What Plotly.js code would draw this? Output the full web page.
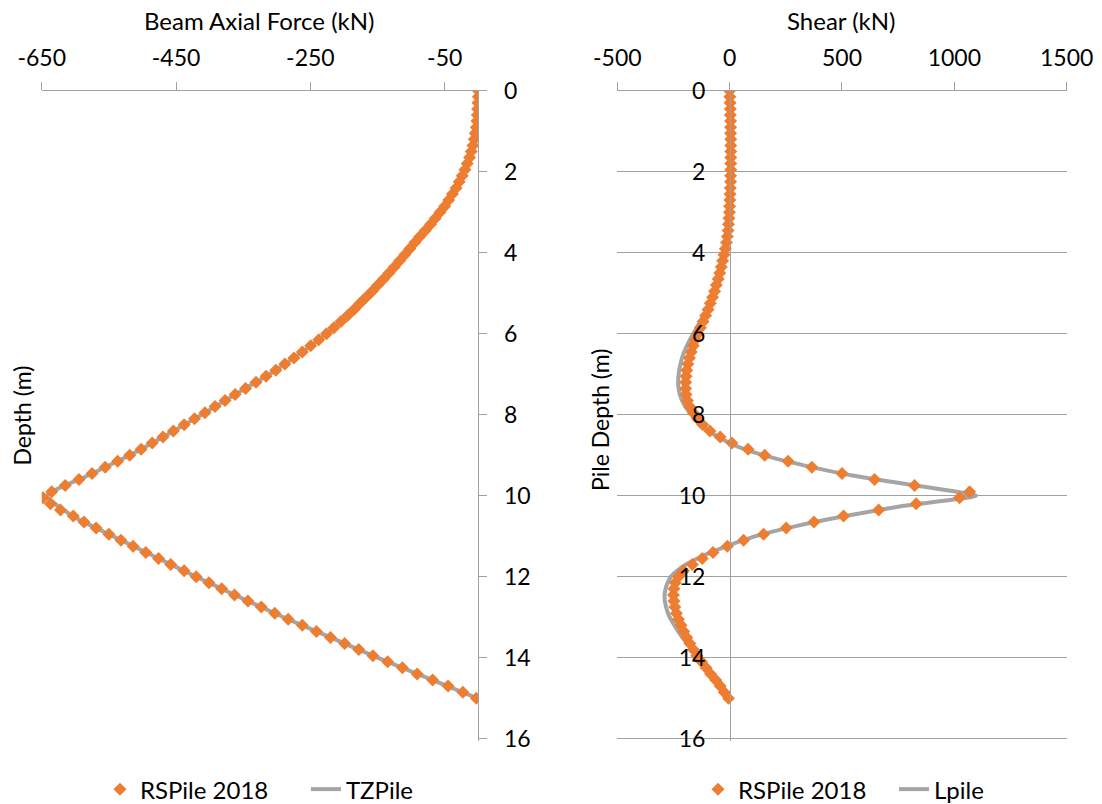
<!DOCTYPE html>
<html><head><meta charset="utf-8">
<script src="https://cdn.plot.ly/plotly-3.0.1.min.js"></script>
<style>html,body{margin:0;padding:0;background:#fff}#chart{width:1102px;height:804px}</style>
</head><body><div id="chart"></div><script>
// Depth of RSPile 2018 nodes (m)
const depthRS = [
 0, 0.15, 0.3, 0.45, 0.6, 0.75, 0.9, 1.05, 1.2, 1.35,
 1.5, 1.65, 1.8, 1.95, 2.1, 2.25, 2.4, 2.55, 2.7, 2.85,
 3, 3.15, 3.3, 3.45, 3.6, 3.75, 3.9, 4.05, 4.2, 4.35,
 4.5, 4.65, 4.8, 4.95, 5.1, 5.25, 5.4, 5.55, 5.7, 5.85,
 6, 6.15, 6.3, 6.45, 6.6, 6.75, 6.9, 7.05, 7.2, 7.35,
 7.5, 7.65, 7.8, 7.95, 8.1, 8.25, 8.4, 8.55, 8.7, 8.85,
 9, 9.15, 9.3, 9.45, 9.6, 9.75, 9.9, 10.05, 10.2, 10.35,
 10.5, 10.65, 10.8, 10.95, 11.1, 11.25, 11.4, 11.55, 11.7, 11.85,
 12, 12.15, 12.3, 12.45, 12.6, 12.75, 12.9, 13.05, 13.2, 13.35,
 13.5, 13.65, 13.8, 13.95, 14.1, 14.25, 14.4, 14.55, 14.7, 14.85,
 15
];
// RSPile 2018 beam axial force (kN)
const axialRS = [
 0, 0, -0.5, -1, -1.5, -2, -3, -4.5, -6, -8,
 -10.5, -13, -16.5, -20, -24, -28.5, -33, -38.5, -44, -50,
 -57, -64, -71, -79, -87, -94.5, -102, -109.5, -117, -125,
 -133, -141, -149.5, -158, -167, -176, -185, -194.5, -204.5, -215,
 -226, -237.5, -249.5, -262, -274.5, -288, -301.5, -316, -331, -346.5,
 -362, -377, -392, -407, -422.5, -438, -454, -469.5, -485.5, -502,
 -519, -537, -555.5, -575, -594.5, -615, -635, -648, -637, -622,
 -603, -587, -569, -550, -532, -514, -495, -476, -458, -438,
 -420, -401, -382, -363, -343, -323, -303, -283, -262, -241,
 -220, -199, -178, -157, -135, -113, -91, -68, -45, -23,
 -3
];
// RSPile 2018 shear (kN)
const shearRS = [
 0, 1, 2, 3, 3, 4, 4, 4, 5, 5,
 5, 5, 5, 5, 4, 4, 3, 2, 1, 0,
 -1, -3, -5, -7, -10, -14, -19, -25, -31, -37,
 -44, -51, -59, -67, -76, -86, -96, -107, -118, -130,
 -141, -152, -162, -171, -179, -186, -191, -194, -196, -196,
 -194, -188, -178, -162, -143, -120, -88, -42, 10, 82,
 156, 260, 366, 500, 645, 823, 1068, 1023, 830, 663,
 507, 375, 252, 151, 62, -10, -74, -122, -166, -205,
 -228, -242, -248, -250, -248, -244, -237, -228, -216, -204,
 -191, -177, -162, -146, -125, -105, -85, -62, -42, -24,
 -5
];
// TZPile
const depthTZ = [0, 0.5, 1, 1.5, 2, 2.5, 3, 3.5, 4, 4.5, 5, 5.5, 6, 6.5, 7, 7.5, 8, 8.5, 9, 9.5,
 10, 10.5, 11, 11.5, 12, 12.5, 13, 13.5, 14, 14.5, 15];
const axialTZ = [0, -1, -4, -11, -22, -37, -57, -82, -107, -133, -161, -191, -226, -266, -311, -362, -412, -464, -519, -581,
 -642, -604, -544, -482, -420, -356, -290, -220, -150, -76, -2];
// Lpile
const depthLP = [0, 0.25, 0.5, 0.75, 1, 1.25, 1.5, 1.75, 2, 2.25,
 2.5, 2.75, 3, 3.25, 3.5, 3.75, 4, 4.25, 4.5, 4.75,
 5, 5.25, 5.5, 5.75, 6, 6.25, 6.5, 6.75, 7, 7.25,
 7.5, 7.75, 8, 8.25, 8.5, 8.75, 9, 9.25, 9.5, 9.75,
 10, 10.25, 10.5, 10.75, 11, 11.25, 11.5, 11.75, 12, 12.25,
 12.5, 12.75, 13, 13.25, 13.5, 13.75, 14, 14.25, 14.5, 14.75,
 15];
const shearLP = [0, 1, 2, 3, 4, 4, 4, 4, 4, 3,
 2, 0, -2, -5, -9, -15, -24, -34, -46, -59,
 -74, -92, -112, -136, -162, -186, -206, -219, -227, -229,
 -222, -203, -170, -128, -65, 20, 150, 330, 545, 830,
 1097, 775, 515, 295, 115, -15, -125, -210, -262, -283,
 -290, -283, -267, -240, -210, -172, -133, -98, -65, -32,
 -3];

const axialTicks = [-650, -450, -250, -50];
const axialTickText = ['-650', '-450', '-250', '-50'];
const shearTicks = [-500, 0, 500, 1000, 1500];
const shearTickText = ['-500', '0', '500', '1000', '1500'];
const depthTicks = [0, 2, 4, 6, 8, 10, 12, 14, 16];

const FONT = 'Lato, "Open Sans", sans-serif';
const ORANGE = '#ED7D31';
const GRAY = '#A5A5A5';
const AX = '#a0a0a0';

const traces = [
  {x: axialTZ, y: depthTZ, xaxis: 'x', yaxis: 'y', mode: 'lines', name: 'TZPile',
   line: {color: GRAY, width: 4, shape: 'spline', smoothing: 0.5}, legend: 'legend', legendrank: 2},
  {x: axialRS, y: depthRS, xaxis: 'x', yaxis: 'y', mode: 'markers', name: 'RSPile 2018',
   marker: {symbol: 'diamond', size: 10, color: ORANGE}, legend: 'legend', legendrank: 1},
  {x: shearLP, y: depthLP, xaxis: 'x2', yaxis: 'y2', mode: 'lines', name: 'Lpile',
   line: {color: GRAY, width: 4, shape: 'spline', smoothing: 0.5}, legend: 'legend2', legendrank: 2},
  {x: shearRS, y: depthRS, xaxis: 'x2', yaxis: 'y2', mode: 'markers', name: 'RSPile 2018',
   marker: {symbol: 'diamond', size: 10, color: ORANGE}, legend: 'legend2', legendrank: 1}
];

const ydom = [0.0787, 0.88719];
const layout = {
  width: 1102, height: 804,
  margin: {l: 0, r: 0, t: 0, b: 0, autoexpand: false},
  paper_bgcolor: '#ffffff', plot_bgcolor: 'rgba(0,0,0,0)',
  font: {family: FONT, size: 23, color: '#000'},
  xaxis: {domain: [0.03784, 0.43403], range: [-650, 0], side: 'top', anchor: 'y',
    tickmode: 'array', tickvals: axialTicks, ticktext: axialTickText, ticks: 'outside', ticklen: 8, tickcolor: AX, tickwidth: 1,
    showline: true, linecolor: AX, linewidth: 1, showgrid: false, zeroline: false, ticklabelstandoff: 6},
  yaxis: {domain: ydom, range: [16.05, 0], anchor: 'x', side: 'right',
    tickmode: 'array', tickvals: depthTicks, ticks: 'outside', ticklen: 8, tickcolor: AX, tickwidth: 1,
    showline: true, linecolor: AX, linewidth: 1, showgrid: false, zeroline: false, ticklabelstandoff: 12},
  xaxis2: {domain: [0.56016, 0.96797], range: [-500, 1500], side: 'top', anchor: 'y2',
    tickmode: 'array', tickvals: shearTicks, ticktext: shearTickText, ticks: 'outside', ticklen: 8, tickcolor: AX, tickwidth: 1,
    showline: true, linecolor: AX, linewidth: 1, showgrid: false, zeroline: false, ticklabelstandoff: 6},
  yaxis2: {domain: ydom, range: [16.05, 0], anchor: 'free', position: 0.66243, side: 'left',
    tickmode: 'array', tickvals: depthTicks, ticks: '',
    showline: true, linecolor: AX, linewidth: 1, showgrid: true, gridcolor: AX, gridwidth: 1,
    zeroline: false, ticklabelstandoff: 20},
  showlegend: true,
  legend: {orientation: 'h', x: 0.0907, xanchor: 'left', y: 0.018, yanchor: 'middle', entrywidth: 161,
    font: {family: FONT, size: 24, color: '#000'}, bgcolor: 'rgba(0,0,0,0)'},
  legend2: {orientation: 'h', x: 0.6334, xanchor: 'left', y: 0.018, yanchor: 'middle', entrywidth: 151,
    font: {family: FONT, size: 24, color: '#000'}, bgcolor: 'rgba(0,0,0,0)'},
  annotations: [
    {text: 'Beam Axial Force (kN)', xref: 'paper', yref: 'paper', x: 0.2359, y: 0.974, xanchor: 'center', yanchor: 'middle', showarrow: false, font: {family: FONT, size: 24, color: '#000'}},
    {text: 'Shear (kN)', xref: 'paper', yref: 'paper', x: 0.764, y: 0.974, xanchor: 'center', yanchor: 'middle', showarrow: false, font: {family: FONT, size: 24, color: '#000'}},
    {text: 'Depth (m)', xref: 'paper', yref: 'paper', x: 0.0204, y: 0.4838, xanchor: 'center', yanchor: 'middle', textangle: -90, showarrow: false, font: {family: FONT, size: 23, color: '#000'}},
    {text: 'Pile Depth (m)', xref: 'paper', yref: 'paper', x: 0.5445, y: 0.4776, xanchor: 'center', yanchor: 'middle', textangle: -90, showarrow: false, font: {family: FONT, size: 23, color: '#000'}}
  ]
};

Plotly.newPlot('chart', traces, layout, {displayModeBar: false, responsive: false, staticPlot: true});
</script></body></html>
